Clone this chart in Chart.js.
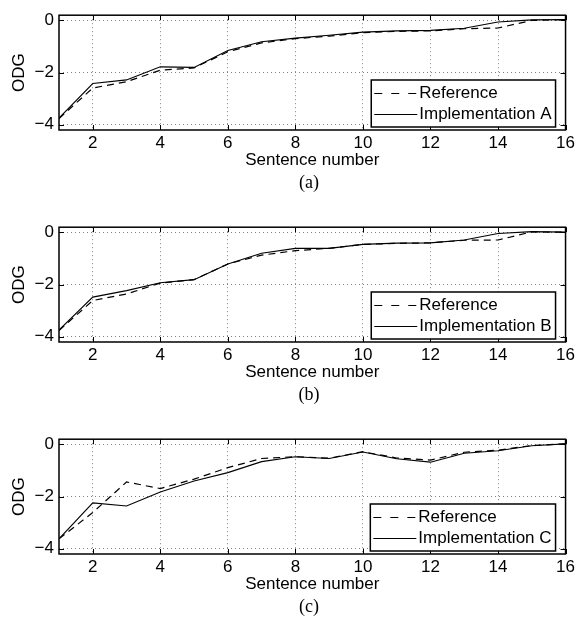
<!DOCTYPE html>
<html><head><meta charset="utf-8">
<script src="https://cdn.jsdelivr.net/npm/chart.js@4.4.0/dist/chart.umd.min.js"></script>
<style>
html,body{margin:0;padding:0;background:#fff;overflow:hidden;}
#wrap{position:relative;width:578px;height:618px;}
.panel{position:absolute;left:0;width:578px;height:200px;}
.cap{position:absolute;transform:translateX(-50%);font-family:"Liberation Serif","Times New Roman",serif;font-size:18px;line-height:20px;color:#000;white-space:nowrap;}
</style></head><body>
<div id="wrap">
  <div class="panel" style="top:0px"><canvas id="ca" width="578" height="200"></canvas></div>
  <div class="panel" style="top:212px"><canvas id="cb" width="578" height="200"></canvas></div>
  <div class="panel" style="top:424px"><canvas id="cc" width="578" height="200"></canvas></div>
  <div class="cap" style="left:309px;top:172px">(a)</div>
  <div class="cap" style="left:309px;top:384px">(b)</div>
  <div class="cap" style="left:309px;top:596px">(c)</div>
</div>
<script>
const SENTENCES = [1,2,3,4,5,6,7,8,9,10,11,12,13,14,15,16];
const REF_A  = [-3.76,-2.59,-2.35,-1.91,-1.82,-1.20,-0.86,-0.70,-0.60,-0.47,-0.42,-0.40,-0.32,-0.29,0.00,0.03];
const IMPL_A = [-3.74,-2.42,-2.28,-1.78,-1.80,-1.15,-0.82,-0.68,-0.57,-0.45,-0.40,-0.38,-0.30,-0.06,0.02,0.03];
const REF_B  = [-3.76,-2.61,-2.36,-1.94,-1.81,-1.21,-0.87,-0.70,-0.61,-0.46,-0.42,-0.40,-0.30,-0.29,0.02,0.01];
const IMPL_B = [-3.74,-2.48,-2.23,-1.93,-1.81,-1.21,-0.80,-0.61,-0.61,-0.46,-0.41,-0.40,-0.29,-0.04,0.03,0.01];
const REF_C  = [-3.62,-2.61,-1.44,-1.69,-1.33,-0.89,-0.54,-0.47,-0.53,-0.28,-0.52,-0.60,-0.30,-0.22,-0.04,0.02];
const IMPL_C = [-3.62,-2.24,-2.36,-1.82,-1.40,-1.08,-0.66,-0.47,-0.54,-0.29,-0.55,-0.68,-0.34,-0.24,-0.05,0.02];
const XTICKS = [2,4,6,8,10,12,14,16];
const YTICKS = [-4,-2,0];
const X_MIN = 1, X_MAX = 16, Y_MIN = -4.2, Y_MAX = 0.2;
const REF_LABEL = 'Reference';
const IMPL_LABELS = ['Implementation A','Implementation B','Implementation C'];
const X_TITLE = 'Sentence number', Y_TITLE = 'ODG';

const FONT = {family:'"Liberation Sans", Arial, Helvetica, sans-serif', size:17};
Chart.defaults.font.family = FONT.family;
Chart.defaults.font.size = FONT.size;
Chart.defaults.color = '#000';

function pts(arr){ return SENTENCES.map((x,i)=>({x:x, y:arr[i]})); }

const framePlugin = {
  id:'frame',
  afterDraw(chart){
    const {ctx, chartArea:a, scales:{x, y}} = chart;
    ctx.save();
    ctx.strokeStyle = '#000';
    ctx.lineWidth = 1;
    ctx.beginPath();
    XTICKS.forEach(v=>{
      const px = Math.round(x.getPixelForValue(v)) + 0.5;
      ctx.moveTo(px, a.bottom); ctx.lineTo(px, a.bottom - 5);
      ctx.moveTo(px, a.top); ctx.lineTo(px, a.top + 5);
    });
    YTICKS.forEach(v=>{
      const py = Math.round(y.getPixelForValue(v)) + 0.5;
      ctx.moveTo(a.left, py); ctx.lineTo(a.left + 5, py);
      ctx.moveTo(a.right, py); ctx.lineTo(a.right - 5, py);
    });
    ctx.stroke();
    ctx.lineWidth = 1.5;
    ctx.strokeRect(a.left, a.top, a.right - a.left, a.bottom - a.top);
    ctx.restore();
  }
};

const legendPlugin = {
  id:'innerLegend',
  afterDraw(chart){
    const {ctx, chartArea:a} = chart;
    const ds = chart.data.datasets;
    ctx.save();
    ctx.font = FONT.size + 'px ' + FONT.family;
    const tw = Math.max(...ds.map(d=>ctx.measureText(d.label).width));
    const sample = 43, padL = 3, gap = 2, padR = 4, rowH = 21, padT = 2.5;
    const w = padL + sample + gap + tw + padR;
    const h = padT*2 + rowH*ds.length;
    const bx = a.right - 10 - w, by = a.bottom - 3 - h;
    ctx.fillStyle = '#fff'; ctx.fillRect(bx, by, w, h);
    ctx.lineWidth = 1.5; ctx.strokeStyle = '#000'; ctx.strokeRect(bx, by, w, h);
    ds.forEach((d,i)=>{
      const cy = Math.round(by + padT + rowH*(i+0.5)) + 0.5;
      ctx.beginPath();
      ctx.setLineDash(d.borderDash ? [8,9] : []);
      ctx.lineWidth = d.borderWidth;
      ctx.strokeStyle = d.borderColor;
      ctx.moveTo(bx + padL, cy); ctx.lineTo(bx + padL + sample, cy); ctx.stroke();
      ctx.setLineDash([]);
      ctx.fillStyle = '#000'; ctx.textBaseline = 'middle'; ctx.textAlign = 'left';
      ctx.fillText(d.label, bx + padL + sample + gap, cy);
    });
    ctx.restore();
  }
};

const PANELS = [
  {id:'ca', ref:REF_A, impl:IMPL_A, label:IMPL_LABELS[0]},
  {id:'cb', ref:REF_B, impl:IMPL_B, label:IMPL_LABELS[1]},
  {id:'cc', ref:REF_C, impl:IMPL_C, label:IMPL_LABELS[2]}
];

const GRID = {color:'#808080', lineWidth:1, drawTicks:false};
const BORDER = {display:false, dash:[1,3]};

PANELS.forEach(p=>{
  new Chart(document.getElementById(p.id), {
    type:'line',
    data:{datasets:[
      {label:REF_LABEL, data:pts(p.ref), borderColor:'#000', borderWidth:1.2, borderDash:[7,5], pointRadius:0, tension:0, fill:false},
      {label:p.label, data:pts(p.impl), borderColor:'#000', borderWidth:1.1, pointRadius:0, tension:0, fill:false}
    ]},
    options:{
      responsive:false, animation:false, events:[],
      layout:{padding:{top:15, right:11, left:0, bottom:0}},
      plugins:{legend:{display:false}, tooltip:{enabled:false}},
      scales:{
        x:{type:'linear', min:X_MIN, max:X_MAX,
          afterBuildTicks:s=>{ s.ticks = XTICKS.map(v=>({value:v})); },
          afterFit:s=>{ s.height = 70; },
          grid:GRID, border:BORDER,
          ticks:{padding:3, color:'#000', maxRotation:0, autoSkip:false},
          title:{display:true, text:X_TITLE, color:'#000', padding:{top:0, bottom:29}}
        },
        y:{type:'linear', min:Y_MIN, max:Y_MAX,
          afterBuildTicks:s=>{ s.ticks = YTICKS.map(v=>({value:v})); },
          afterFit:s=>{ s.width = 59; },
          grid:GRID, border:BORDER,
          ticks:{padding:5, color:'#000', callback:v=>String(v).replace('-', '\u2212')},
          title:{display:true, text:Y_TITLE, color:'#000', padding:{top:9, bottom:0}}
        }
      }
    },
    plugins:[framePlugin, legendPlugin]
  });
});
</script>
</body></html>
